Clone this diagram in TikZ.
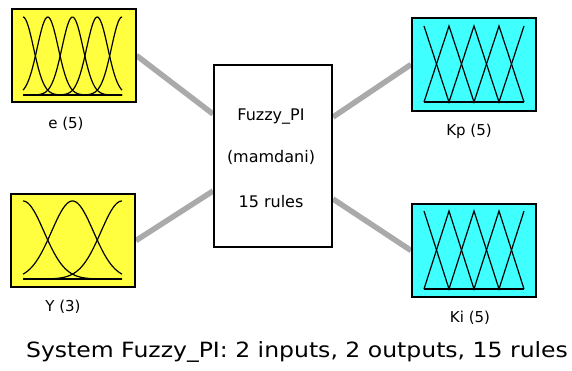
\documentclass[tikz,border=0pt]{standalone}
\usepackage{fontspec}
\setmainfont{DejaVu Sans}
\newfontfamily\sysfont[FakeStretch=1.12]{DejaVu Sans}
\usetikzlibrary{calc,backgrounds}

\definecolor{mfyellow}{RGB}{255,255,64}
\definecolor{mfcyan}{RGB}{64,255,255}
\definecolor{linkgray}{RGB}{170,170,170}

\tikzset{
  varbox/.style={draw, line width=2pt, inner sep=0pt, minimum width=124pt, minimum height=93pt},
  inbox/.style={varbox, fill=mfyellow},
  outbox/.style={varbox, fill=mfcyan},
  varlabel/.style={font=\fontsize{15}{17}\selectfont},
  fislabel/.style={font=\fontsize{16}{18}\selectfont},
  link/.style={linkgray, line width=5.5pt},
  mfline/.style={line width=1.2pt},
}

\begin{document}
\begin{tikzpicture}[x=1pt, y=-1pt]

  % Page size of the reference
  \useasboundingbox (0,0) rectangle (572,370);

  % Input variables (left)
  \node[inbox] (e) at (73.5,55.5) {};
  \node[inbox] (Y) at (73,240.5) {};

  % Output variables (right)
  \node[outbox] (Kp) at (474,64.5) {};
  \node[outbox] (Ki) at (474,250.5) {};

  % The inference system in the middle
  \node[draw, line width=2pt, fill=white, inner sep=0pt,
        minimum width=118pt, minimum height=182pt] (fis) at (273,156) {};
  \node[fislabel] (fisname) at ($(fis.north)+(-2,53)$) {Fuzzy\_PI};
  \node[fislabel] (fistype) at ($(fis.north)+(-2,93)$) {(mamdani)};
  \node[fislabel] (fisrules) at ($(fis.north)+(-2,138)$) {15 rules};

  % Gray links behind the boxes
  \begin{scope}[on background layer]
    \fill[white] (0,0) rectangle (572,370);
    \draw[link] (e.east) -- ([yshift=-50pt]fis.north west);
    \draw[link] (Y.east) -- ([yshift=57pt]fis.south west);
    \draw[link] ([yshift=-53pt]fis.north east) -- (Kp.west);
    \draw[link] ([yshift=-135pt]fis.north east) -- (Ki.west);
  \end{scope}

  % Membership functions of e: five gaussians
  \draw[mfline] (23,95) -- (122,95);
  \foreach \c in {23,47.75,72.5,97.25,122}
    \draw[mfline] plot[domain=23:122, samples=80, smooth]
      (\x, {95-78*exp(0-((\x-\c)^2)/220.5)});

  % Membership functions of Y: three gaussians
  \draw[mfline] (23,279) -- (122,279);
  \foreach \c in {23,72.5,122}
    \draw[mfline] plot[domain=23:122, samples=80, smooth]
      (\x, {279-78*exp(0-((\x-\c)^2)/883)});

  % Membership functions of Kp: five triangles
  \draw[mfline] (424,102) -- (524,102);
  \draw[mfline] (424,26) -- (449,102) -- (474,26) -- (499,102) -- (524,26);
  \draw[mfline] (424,102) -- (449,26) -- (474,102) -- (499,26) -- (524,102);

  % Membership functions of Ki: five triangles
  \draw[mfline] (424,289) -- (524,289);
  \draw[mfline] (424,211) -- (449,289) -- (474,211) -- (499,289) -- (524,211);
  \draw[mfline] (424,289) -- (449,211) -- (474,289) -- (499,211) -- (524,289);

  % Variable names
  \node[varlabel] (elabel) at (66,124) {e (5)};
  \node[varlabel] (Ylabel) at (63,307) {Y (3)};
  \node[varlabel] (Kplabel) at (469,131) {Kp (5)};
  \node[varlabel] (Kilabel) at (470,318) {Ki (5)};

  % Summary line
  \node[font=\sysfont\fontsize{21}{25}\selectfont] (summary) at (297,352)
    {System Fuzzy\_PI: 2 inputs, 2 outputs, 15 rules};

\end{tikzpicture}
\end{document}
